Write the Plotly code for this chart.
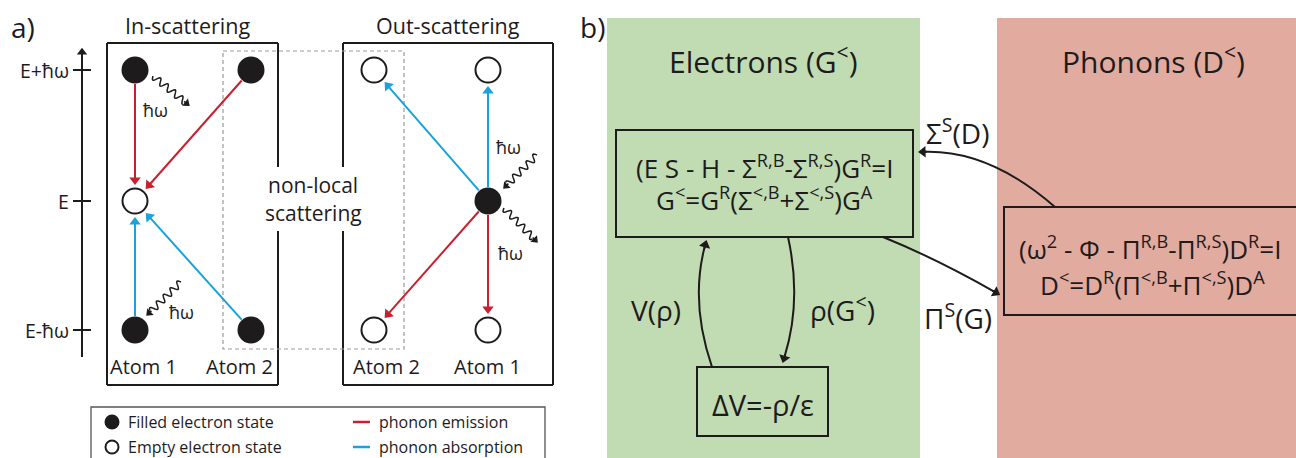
import numpy as np
import plotly.graph_objects as go

W, H = 1296, 458
FONT = "Open Sans, Noto Sans, sans-serif"
INK = "#1e1b1c"
RED = "#c8202f"
BLUE = "#1ba1dc"
GREEN = "#c1dbb3"
SALMON = "#e2aba0"

# ---------------- panel a data ----------------
level_labels = ["E+ħω", "E", "E-ħω"]
level_y = [70, 201, 330]
axis_x = 82

in_state_x = [135, 251, 135, 135, 251]
in_state_y = [70, 70, 201, 330, 330]
in_state_filled = [1, 1, 0, 1, 1]
out_state_x = [374, 488, 488, 374, 488]
out_state_y = [70, 70, 201, 330, 330]
out_state_filled = [0, 0, 1, 0, 0]

atom_label_x = [143, 239, 386, 487]
atom_label_text = ["Atom 1", "Atom 2", "Atom 2", "Atom 1"]
atom_label_y = 366

in_transitions = [(0, 2, "emission"), (1, 2, "emission"), (3, 2, "absorption"), (4, 2, "absorption")]
out_transitions = [(2, 1, "absorption"), (2, 0, "absorption"), (2, 4, "emission"), (2, 3, "emission")]

phonon_start_x = [153, 181, 537, 504]
phonon_start_y = [76, 282, 155, 208]
phonon_end_x = [191, 145, 502, 539]
phonon_end_y = [107, 317, 190, 244]
hw_label_x = [155, 181, 508, 510]
hw_label_y = [110, 312, 147, 253]

panel_titles = ["In-scattering", "Out-scattering"]
panel_title_x = [187, 448]
in_box = [107, 43, 278, 385]
out_box = [343, 43, 553, 385]
nonlocal_box = [223, 51, 404, 349]
gap_y = [167, 231]

legend_box = [91, 407, 545, 470]
legend_marker_labels = ["Filled electron state", "Empty electron state"]
legend_line_labels = ["phonon emission", "phonon absorption"]
legend_y = [422, 447]

# ---------------- panel b data ----------------
green_bg = [607, 18, 920, 470]
salmon_bg = [997, 18, 1300, 470]
elec_box = [616, 130, 913, 237]
dv_box = [697, 367, 828, 436]
phon_box = [1004, 207, 1310, 315]
elec_eq = ["(E S - H - Σ<sup>R,B</sup>-Σ<sup>R,S</sup>)G<sup>R</sup>=I",
           "G<sup>&lt;</sup>=G<sup>R</sup>(Σ<sup>&lt;,B</sup>+Σ<sup>&lt;,S</sup>)G<sup>A</sup>"]
phon_eq = ["(ω<sup>2</sup> - Φ - Π<sup>R,B</sup>-Π<sup>R,S</sup>)D<sup>R</sup>=I",
           "D<sup>&lt;</sup>=D<sup>R</sup>(Π<sup>&lt;,B</sup>+Π<sup>&lt;,S</sup>)D<sup>A</sup>"]
links = [
    dict(p0=(712, 367), c=(690, 303), p1=(707, 238), label="V(ρ)", lx=656, ly=310),
    dict(p0=(788, 237), c=(802, 300), p1=(782, 365), label="ρ(G<sup>&lt;</sup>)", lx=842, ly=308),
    dict(p0=(1055, 207), c=(990, 150), p1=(916, 152), label="Σ<sup>S</sup>(D)", lx=957, ly=131),
    dict(p0=(883, 237), c=(935, 258), p1=(1002, 296), label="Π<sup>S</sup>(G)", lx=958, ly=316),
]

fig = go.Figure()
shapes = []
ann = []


def line(x0, y0, x1, y1, color=INK, width=2, dash=None):
    d = dict(type="line", x0=x0, y0=y0, x1=x1, y1=y1, xref="x", yref="y",
             line=dict(color=color, width=width), layer="below")
    if dash:
        d["line"]["dash"] = dash
    shapes.append(d)


def rect(b, fill=None, color=INK, width=2, dash=None):
    d = dict(type="rect", x0=b[0], y0=b[1], x1=b[2], y1=b[3], xref="x", yref="y", layer="below",
             line=dict(color=color, width=width))
    if fill:
        d["fillcolor"] = fill
    if width == 0:
        d["line"] = dict(width=0)
    if dash:
        d["line"]["dash"] = dash
    shapes.append(d)


def arrow(xa, ya, x, y, color=INK, width=2, size=10):
    """Straight arrow drawn as a scatter line with a triangle marker at its tip."""
    L = np.hypot(x - xa, y - ya)
    ux, uy = (x - xa) / L, (y - ya) / L
    back = 0.707 * size  # distance from triangle centre to its tip
    cx, cy = x - ux * back, y - uy * back
    fig.add_trace(go.Scatter(
        x=[xa, cx], y=[ya, cy], mode="lines+markers", hoverinfo="skip",
        line=dict(color=color, width=width),
        marker=dict(symbol="triangle-up", size=[0, size], color=color, opacity=1,
                    angleref="previous", line=dict(width=0))))


def text(x, y, s, size, xanchor="center", color=INK):
    ann.append(dict(x=x, y=y, xref="x", yref="y", text=s, showarrow=False, xanchor=xanchor,
                    yanchor="middle", font=dict(family=FONT, size=size, color=color)))


# backgrounds of panel b
rect(green_bg, fill=GREEN, width=0)
rect(salmon_bg, fill=SALMON, width=0)

# panel labels
text(23, 27, "a)", 28)
text(592, 27, "b)", 28)

# energy axis
arrow(axis_x, 357, axis_x, 46, width=2, size=9)
for lab, yy in zip(level_labels, level_y):
    line(73, yy, 91, yy)
    text(71, yy, lab, 19.5, xanchor="right")

# panel boxes with a gap for the non-local label
for b, side in ((in_box, "right"), (out_box, "left")):
    x0, y0, x1, y1 = b
    line(x0, y0, x1, y0)
    line(x0, y1, x1, y1)
    if side == "right":
        line(x0, y0, x0, y1)
        line(x1, y0, x1, gap_y[0])
        line(x1, gap_y[1], x1, y1)
    else:
        line(x1, y0, x1, y1)
        line(x0, y0, x0, gap_y[0])
        line(x0, gap_y[1], x0, y1)
rect(nonlocal_box, color="#9a9a9a", width=1.2, dash="4px,3px")
text(313, 185, "non-local", 21)
text(313, 213, "scattering", 21)

for t, x in zip(panel_titles, panel_title_x):
    text(x, 25, t, 21.5)
for x, s in zip(atom_label_x, atom_label_text):
    text(x, atom_label_y, s, 20)

# transitions between states
R_START, R_END = 14, 14
for sx, sy, trans in ((in_state_x, in_state_y, in_transitions), (out_state_x, out_state_y, out_transitions)):
    for i, j, kind in trans:
        x0, y0, x1, y1 = sx[i], sy[i], sx[j], sy[j]
        L = np.hypot(x1 - x0, y1 - y0)
        ux, uy = (x1 - x0) / L, (y1 - y0) / L
        arrow(x0 + ux * R_START, y0 + uy * R_START, x1 - ux * R_END, y1 - uy * R_END,
              color=RED if kind == "emission" else BLUE, width=2, size=10)

# phonon wiggles
for x0, y0, x1, y1 in zip(phonon_start_x, phonon_start_y, phonon_end_x, phonon_end_y):
    L = np.hypot(x1 - x0, y1 - y0)
    ux, uy = (x1 - x0) / L, (y1 - y0) / L
    nx, ny = -uy, ux
    Lw = L - 8
    s = np.linspace(0, Lw, 90)
    off = 3.3 * np.sin(2 * np.pi * s / 9.5)
    xs = x0 + ux * s + nx * off
    ys = y0 + uy * s + ny * off
    path = "M " + " L ".join(f"{a:.2f},{b:.2f}" for a, b in zip(xs, ys))
    shapes.append(dict(type="path", path=path, xref="x", yref="y", layer="below",
                       line=dict(color=INK, width=1.5)))
    arrow(x0 + ux * (Lw - 1), y0 + uy * (Lw - 1), x1, y1, width=1.5, size=8)
for x, y in zip(hw_label_x, hw_label_y):
    text(x, y, "ħω", 18)

# electron states
for sx, sy, sf in ((in_state_x, in_state_y, in_state_filled), (out_state_x, out_state_y, out_state_filled)):
    fig.add_trace(go.Scatter(
        x=sx, y=sy, mode="markers", hoverinfo="skip",
        marker=dict(size=[27 if f else 25 for f in sf], opacity=1,
                    color=[INK if f else "white" for f in sf],
                    line=dict(color=INK, width=[0 if f else 2 for f in sf]))))

# legend
rect(legend_box, color="#555555", width=1.3)
fig.add_trace(go.Scatter(x=[112, 112], y=legend_y, mode="markers", hoverinfo="skip",
                         marker=dict(size=[15, 13], color=[INK, "white"], opacity=1,
                                     line=dict(color=INK, width=[0, 2]))))
for lab, yy in zip(legend_marker_labels, legend_y):
    text(126, yy, lab, 16, xanchor="left")
for lab, yy, c in zip(legend_line_labels, legend_y, [RED, BLUE]):
    line(353, yy, 370, yy, color=c, width=2.5)
    text(377, yy, lab, 16, xanchor="left")

# ---------------- panel b ----------------
text(763, 60, "Electrons (G<sup>&lt;</sup>)", 30)
text(1153, 60, "Phonons (D<sup>&lt;</sup>)", 30)
rect(elec_box, width=2)
rect(dv_box, width=2)
rect(phon_box, width=2)
text(764, 167, elec_eq[0], 26)
text(764, 199, elec_eq[1], 26)
text(1150, 248, phon_eq[0], 26)
text(1152, 284, phon_eq[1], 26)
text(763, 404, "ΔV=-ρ/ε", 29)

for lk in links:
    (x0, y0), (cx, cy), (x1, y1) = lk["p0"], lk["c"], lk["p1"]
    tx, ty = x1 - cx, y1 - cy
    tl = np.hypot(tx, ty)
    hx, hy = x1 - tx / tl * 9, y1 - ty / tl * 9
    shapes.append(dict(type="path", path=f"M {x0},{y0} Q {cx},{cy} {hx:.2f},{hy:.2f}",
                       xref="x", yref="y", layer="below", line=dict(color=INK, width=2)))
    arrow(hx - 2 * tx / tl, hy - 2 * ty / tl, x1, y1, width=2, size=10)
    text(lk["lx"], lk["ly"], lk["label"], 28)

fig.update_layout(
    width=W, height=H, margin=dict(l=0, r=0, t=0, b=0),
    paper_bgcolor="white", plot_bgcolor="white", showlegend=False,
    xaxis=dict(range=[0, W], visible=False, fixedrange=True),
    yaxis=dict(range=[H, 0], visible=False, fixedrange=True),
    shapes=shapes, annotations=ann,
)
fig.write_html("out.html", config={"displayModeBar": False},
               post_script="document.body.style.margin='0px';")
